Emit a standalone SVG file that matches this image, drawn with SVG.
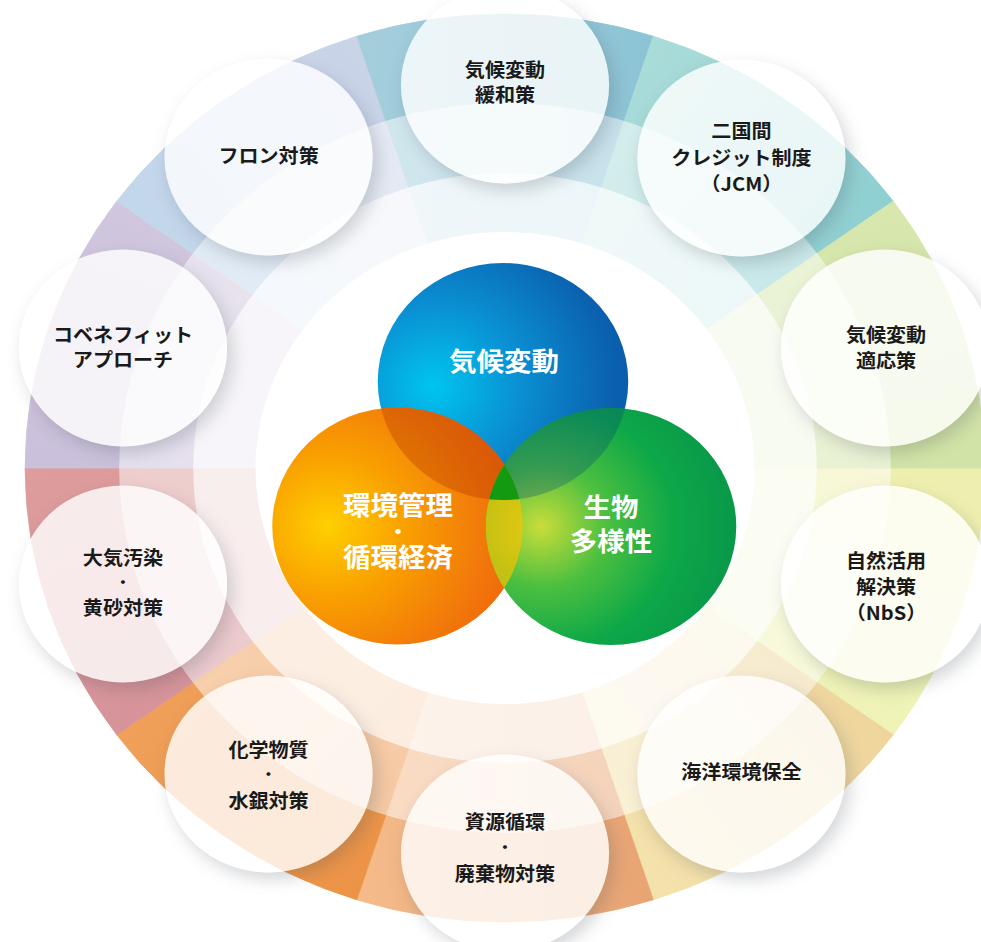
<svg xmlns="http://www.w3.org/2000/svg" width="981" height="942" viewBox="0 0 981 942">
<defs>
<style>
.bub{fill:#fff;fill-opacity:0.8}
.sh{fill:#000;filter:url(#shonly)}
.lbl{font-family:"Noto Sans CJK JP","Noto Sans",sans-serif;font-size:19px;font-weight:700;fill:#1a1a1a;text-anchor:middle}
.dot{font-size:15px}
.vlbl{font-family:"Noto Sans CJK JP","Noto Sans",sans-serif;font-size:26px;font-weight:700;fill:#fff;text-anchor:middle}
.vdot{font-size:20px}
</style>
<filter id="shonly" x="-40%" y="-40%" width="180%" height="180%" color-interpolation-filters="sRGB">
<feGaussianBlur in="SourceAlpha" stdDeviation="8"/>
<feOffset dx="5" dy="7" result="o"/>
<feFlood flood-color="#3c4650" flood-opacity="0.22"/>
<feComposite in2="o" operator="in" result="s"/>
<feComposite in="s" in2="SourceAlpha" operator="out"/>
</filter>
<linearGradient id="w0" gradientUnits="userSpaceOnUse" x1="959" y1="468" x2="872.29" y2="734.85"><stop offset="0" stop-color="#eeefae"/><stop offset="1" stop-color="#eff3b7"/></linearGradient>
<linearGradient id="w1" gradientUnits="userSpaceOnUse" x1="872.29" y1="734.85" x2="645.29" y2="899.78"><stop offset="0" stop-color="#eed59c"/><stop offset="1" stop-color="#f4e2ac"/></linearGradient>
<linearGradient id="w2" gradientUnits="userSpaceOnUse" x1="645.29" y1="899.78" x2="364.71" y2="899.78"><stop offset="0" stop-color="#e8a473"/><stop offset="1" stop-color="#f5bb8b"/></linearGradient>
<linearGradient id="w3" gradientUnits="userSpaceOnUse" x1="364.71" y1="899.78" x2="137.71" y2="734.85"><stop offset="0" stop-color="#ec9346"/><stop offset="1" stop-color="#f0a05a"/></linearGradient>
<linearGradient id="w4" gradientUnits="userSpaceOnUse" x1="137.71" y1="734.85" x2="51" y2="468"><stop offset="0" stop-color="#d6939a"/><stop offset="1" stop-color="#de9c9c"/></linearGradient>
<linearGradient id="w5" gradientUnits="userSpaceOnUse" x1="51" y1="468" x2="137.71" y2="201.15"><stop offset="0" stop-color="#cbc0db"/><stop offset="1" stop-color="#d0c6de"/></linearGradient>
<linearGradient id="w6" gradientUnits="userSpaceOnUse" x1="137.71" y1="201.15" x2="364.71" y2="36.22"><stop offset="0" stop-color="#c2d7eb"/><stop offset="1" stop-color="#cad3e8"/></linearGradient>
<linearGradient id="w7" gradientUnits="userSpaceOnUse" x1="364.71" y1="36.22" x2="645.29" y2="36.22"><stop offset="0" stop-color="#a5cedc"/><stop offset="1" stop-color="#8cc4d5"/></linearGradient>
<linearGradient id="w8" gradientUnits="userSpaceOnUse" x1="645.29" y1="36.22" x2="872.29" y2="201.15"><stop offset="0" stop-color="#aadcd9"/><stop offset="1" stop-color="#8ecfd2"/></linearGradient>
<linearGradient id="w9" gradientUnits="userSpaceOnUse" x1="872.29" y1="201.15" x2="959" y2="468"><stop offset="0" stop-color="#d7e7ad"/><stop offset="1" stop-color="#d1e3a6"/></linearGradient>
<radialGradient id="gB" cx="0.25" cy="0.5" r="0.85" fx="0.22" fy="0.52"><stop offset="0" stop-color="#00c5f0"/><stop offset="0.4" stop-color="#0a8fd2"/><stop offset="0.8" stop-color="#0a62b0"/><stop offset="1" stop-color="#0b58a6"/></radialGradient>
<radialGradient id="gO" cx="0.25" cy="0.5" r="0.85" fx="0.22" fy="0.5"><stop offset="0" stop-color="#ffcf00"/><stop offset="0.35" stop-color="#f9a000"/><stop offset="0.7" stop-color="#f27a0a"/><stop offset="1" stop-color="#ee5e0c"/></radialGradient>
<radialGradient id="gG" cx="0.25" cy="0.5" r="0.85" fx="0.22" fy="0.5"><stop offset="0" stop-color="#c9dd3a"/><stop offset="0.3" stop-color="#4cbf40"/><stop offset="0.6" stop-color="#0ea848"/><stop offset="1" stop-color="#06924a"/></radialGradient>
<clipPath id="cpB"><circle cx="503.1" cy="381.5" r="118.5"/></clipPath>
<clipPath id="cpG"><circle cx="605.3" cy="526.5" r="118.5"/></clipPath>
</defs>
<rect width="981" height="942" fill="#fff"/>
<g transform="matrix(1.057 0 0 1 -28.785 0)">
<g id="ring">
<path d="M505,468 L959,468 A454,454 0 0 1 872.29,734.85 Z" fill="url(#w0)" stroke="url(#w0)" stroke-width="0.8"/>
<path d="M505,468 L872.29,734.85 A454,454 0 0 1 645.29,899.78 Z" fill="url(#w1)" stroke="url(#w1)" stroke-width="0.8"/>
<path d="M505,468 L645.29,899.78 A454,454 0 0 1 364.71,899.78 Z" fill="url(#w2)" stroke="url(#w2)" stroke-width="0.8"/>
<path d="M505,468 L364.71,899.78 A454,454 0 0 1 137.71,734.85 Z" fill="url(#w3)" stroke="url(#w3)" stroke-width="0.8"/>
<path d="M505,468 L137.71,734.85 A454,454 0 0 1 51,468 Z" fill="url(#w4)" stroke="url(#w4)" stroke-width="0.8"/>
<path d="M505,468 L51,468 A454,454 0 0 1 137.71,201.15 Z" fill="url(#w5)" stroke="url(#w5)" stroke-width="0.8"/>
<path d="M505,468 L137.71,201.15 A454,454 0 0 1 364.71,36.22 Z" fill="url(#w6)" stroke="url(#w6)" stroke-width="0.8"/>
<path d="M505,468 L364.71,36.22 A454,454 0 0 1 645.29,36.22 Z" fill="url(#w7)" stroke="url(#w7)" stroke-width="0.8"/>
<path d="M505,468 L645.29,36.22 A454,454 0 0 1 872.29,201.15 Z" fill="url(#w8)" stroke="url(#w8)" stroke-width="0.8"/>
<path d="M505,468 L872.29,201.15 A454,454 0 0 1 959,468 Z" fill="url(#w9)" stroke="url(#w9)" stroke-width="0.8"/>
<circle cx="505" cy="468" r="365" fill="#fff" fill-opacity="0.5"/>
<circle cx="505" cy="468" r="295" fill="#fff" fill-opacity="0.66"/>
<circle cx="505" cy="468" r="236" fill="#fff"/>
</g>
<g id="venn">
<circle cx="503.1" cy="381.5" r="118.5" fill="url(#gB)"/>
<circle cx="403.3" cy="526" r="118.5" fill="url(#gO)"/>
<circle cx="605.3" cy="526.5" r="118.5" fill="url(#gG)"/>
<circle cx="403.3" cy="526" r="118.5" fill="#a82800" fill-opacity="0.3" clip-path="url(#cpB)"/>
<circle cx="503.1" cy="381.5" r="118.5" fill="#004a78" fill-opacity="0.3" clip-path="url(#cpG)"/>
<circle cx="403.3" cy="526" r="118.5" fill="#f6c200" fill-opacity="0.7" clip-path="url(#cpG)"/>
<g clip-path="url(#cpB)"><circle cx="403.3" cy="526" r="118.5" fill="#139a10" clip-path="url(#cpG)"/></g>
<g id="core-climate"><text class="vlbl" x="504.1" y="371">気候変動</text></g>
<g id="core-env"><text class="vlbl" x="403.8" y="515.5">環境管理</text><text class="vlbl vdot" x="403.8" y="539">・</text><text class="vlbl" x="403.8" y="567">循環経済</text></g>
<g id="core-bio"><text class="vlbl" x="605.3" y="517">生物</text><text class="vlbl" x="605.3" y="551">多様性</text></g>
</g>
<g id="n-mitigation"><circle class="sh" cx="505" cy="85" r="98.5"/><circle class="bub" cx="505" cy="85" r="98.5"/><text class="lbl" x="505" y="77.5">気候変動</text><text class="lbl" x="505" y="102.5">緩和策</text></g>
<g id="n-jcm"><circle class="sh" cx="728.7" cy="158" r="98.5"/><circle class="bub" cx="728.7" cy="158" r="98.5"/><text class="lbl" x="728.7" y="138.5">二国間</text><text class="lbl" x="728.7" y="165.5">クレジット制度</text><text class="lbl" x="728.7" y="191.5">（JCM）</text></g>
<g id="n-adaptation"><circle class="sh" cx="864.5" cy="348" r="98.5"/><circle class="bub" cx="864.5" cy="348" r="98.5"/><text class="lbl" x="865.5" y="342">気候変動</text><text class="lbl" x="865.5" y="368">適応策</text></g>
<g id="n-nbs"><circle class="sh" cx="864.5" cy="584" r="98.5"/><circle class="bub" cx="864.5" cy="584" r="98.5"/><text class="lbl" x="865.5" y="568.5">自然活用</text><text class="lbl" x="865.5" y="594">解決策</text><text class="lbl" x="865.5" y="620.5">（NbS）</text></g>
<g id="n-ocean"><circle class="sh" cx="728.7" cy="774" r="98.5"/><circle class="bub" cx="728.7" cy="774" r="98.5"/><text class="lbl" x="728.7" y="779.5">海洋環境保全</text></g>
<g id="n-resource"><circle class="sh" cx="505" cy="853" r="98.5"/><circle class="bub" cx="505" cy="853" r="98.5"/><text class="lbl" x="505" y="829.5">資源循環</text><text class="lbl dot" x="505" y="853.5">・</text><text class="lbl" x="505" y="881">廃棄物対策</text></g>
<g id="n-chemical"><circle class="sh" cx="281.3" cy="774" r="98.5"/><circle class="bub" cx="281.3" cy="774" r="98.5"/><text class="lbl" x="281.3" y="757">化学物質</text><text class="lbl dot" x="281.3" y="780.5">・</text><text class="lbl" x="281.3" y="808.5">水銀対策</text></g>
<g id="n-air"><circle class="sh" cx="143.6" cy="584" r="98.5"/><circle class="bub" cx="143.6" cy="584" r="98.5"/><text class="lbl" x="143.6" y="565.5">大気汚染</text><text class="lbl dot" x="143.6" y="588.5">・</text><text class="lbl" x="143.6" y="615.5">黄砂対策</text></g>
<g id="n-cobenefit"><circle class="sh" cx="143.6" cy="348" r="98.5"/><circle class="bub" cx="143.6" cy="348" r="98.5"/><text class="lbl" x="143.6" y="342">コベネフィット</text><text class="lbl" x="143.6" y="367">アプローチ</text></g>
<g id="n-fluorocarbon"><circle class="sh" cx="281.3" cy="157" r="98.5"/><circle class="bub" cx="281.3" cy="157" r="98.5"/><text class="lbl" x="281.3" y="163.5">フロン対策</text></g>
</g>
</svg>
